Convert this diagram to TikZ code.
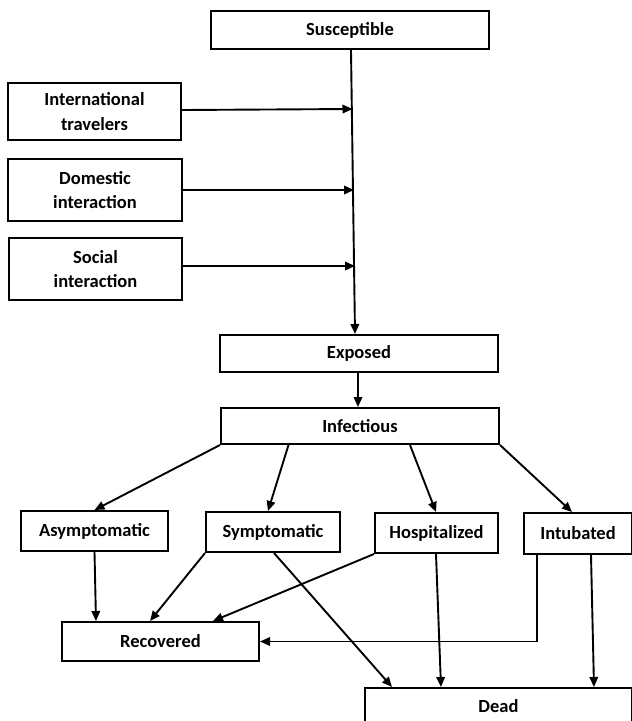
\documentclass[tikz,border=0pt]{standalone}
\usepackage{fontspec}
\setmainfont{Carlito}
\usetikzlibrary{arrows.meta,calc}
\begin{document}
\begin{tikzpicture}[x=1pt,y=-1pt,
  box/.style={draw,line width=2pt,rectangle,inner sep=0pt,align=center,
    font=\fontsize{18.5}{24.5}\selectfont\bfseries},
  arr/.style={line width=1.9pt,-{Triangle[length=10pt,width=8.5pt]}}]
\useasboundingbox (0,0) rectangle (632,721);
\clip (0,0) rectangle (632,721);
\node[box,minimum width=278pt,minimum height=38pt] (Sus) at (350,30) {Susceptible};
\node[box,minimum width=173pt,minimum height=57pt] (Int) at (94.5,111.5) {International\\travelers};
\node[box,minimum width=174pt,minimum height=62pt] (Dom) at (95,190) {Domestic\\interaction};
\node[box,minimum width=173pt,minimum height=62pt] (Soc) at (95.5,269) {Social\\interaction};
\node[box,minimum width=278pt,minimum height=37pt] (Exp) at (359,353.5) {Exposed};
\node[box,minimum width=278pt,minimum height=36pt] (Inf) at (360,426) {Infectious};
\node[box,minimum width=147pt,minimum height=40pt] (Asy) at (94.5,531) {Asymptomatic};
\node[box,minimum width=134pt,minimum height=40pt] (Sym) at (273,532) {Symptomatic};
\node[box,minimum width=123pt,minimum height=40pt] (Hos) at (436.5,533) {Hospitalized};
\node[box,minimum width=108pt,minimum height=41pt] (Intb) at (578,533.5) {Intubated};
\node[box,minimum width=197pt,minimum height=39pt] (Rec) at (160.5,641.5) {Recovered};
\node[box,minimum width=267pt,minimum height=36pt,anchor=north] (Dead) at (498.5,687) {Dead};

\coordinate (j1) at (352.5,109);
\coordinate (j2) at (354,190);
\coordinate (j3) at (355,266);
\draw[arr] ($(Sus.south west)+(141,0)$) -- ($(Exp.north west)+(136,0)$);
\draw[arr] ($(Int.east)+(0,-1.5)$) -- (j1);
\draw[arr] (Dom.east) -- (j2);
\draw[arr] ($(Soc.east)+(0,-3)$) -- (j3);
\draw[arr] ($(Exp.south west)+(139,0)$) -- ($(Inf.north west)+(138,0)$);

\draw[arr] (Inf.south west) -- (Asy.north);
\draw[arr] ($(Inf.south west)+(68.5,0)$) -- ($(Sym.north west)+(63,0)$);
\draw[arr] ($(Inf.south west)+(190,0)$) -- ($(Hos.north west)+(62,0)$);
\draw[arr] (Inf.south east) -- ($(Intb.north west)+(49,0)$);

\draw[arr] (Asy.south) -- ($(Rec.north west)+(35,0)$);
\draw[arr] (Sym.south west) -- ($(Rec.north west)+(89,0)$);
\draw[arr] (Hos.south west) -- ($(Rec.north west)+(152,0)$);
\draw[arr] ($(Sym.south west)+(69,0)$) -- ($(Dead.north west)+(28,0)$);
\draw[arr] ($(Hos.south west)+(62,0)$) -- ($(Dead.north west)+(77,0)$);
\draw[arr] ($(Intb.south west)+(14,0)$) |- (Rec.east);
\draw[arr] ($(Intb.south west)+(68,0)$) -- ($(Dead.north west)+(230,0)$);
\end{tikzpicture}
\end{document}
